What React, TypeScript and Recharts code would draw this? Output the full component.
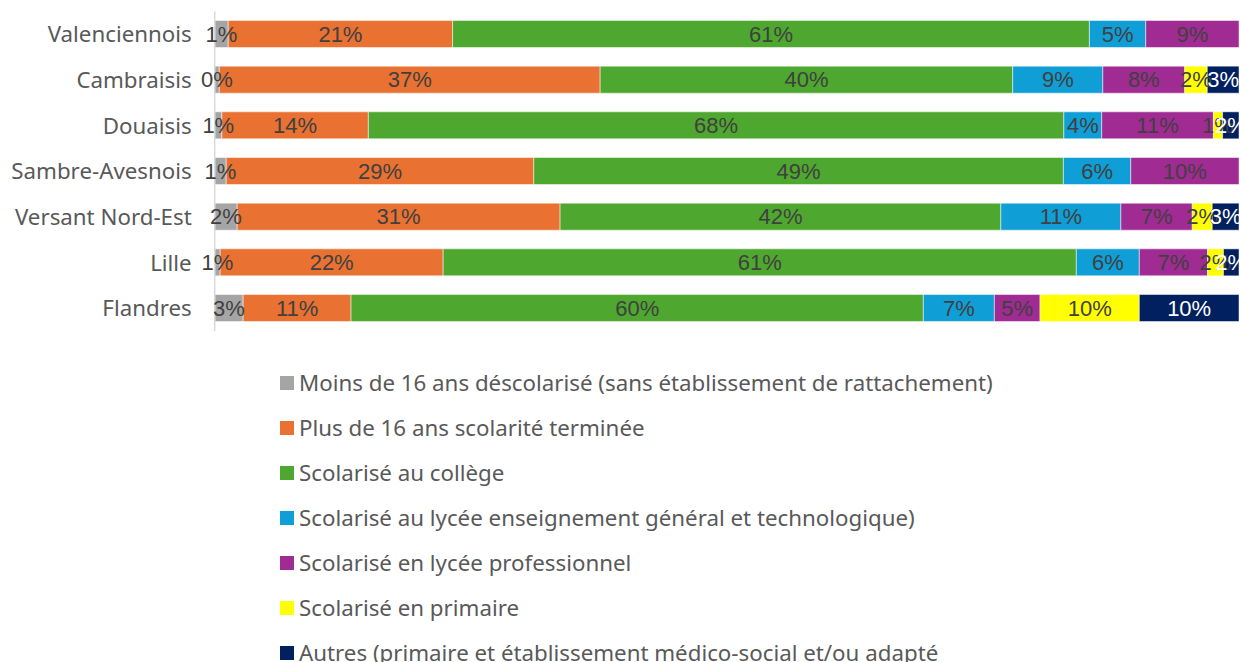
import { Bar, BarChart, LabelList, Legend, XAxis, YAxis } from 'recharts';

const categories = ['Valenciennois', 'Cambraisis', 'Douaisis', 'Sambre-Avesnois', 'Versant Nord-Est', 'Lille', 'Flandres'];

// parts in % (rows don't always add up to 100)
const moins16 = [1.29, 0.45, 0.7, 1.07, 2.14, 0.53, 2.97];
const plus16 = [21.42, 37.2, 14.3, 28.62, 30.75, 21.56, 11.27];
const college = [60.78, 40.3, 67.9, 49.27, 41.97, 61.22, 59.77];
const lyceeGT = [5.38, 8.8, 3.7, 6.27, 11.43, 6.09, 7.42];
const lyceePro = [8.9, 8.0, 10.9, 10.07, 6.8, 6.6, 4.77];
const primaire = [0, 2.2, 0.9, 0, 1.9, 1.54, 10.37];
const autres = [0, 3.1, 1.6, 0, 2.55, 1.5, 10.41];

const seriesNames = [
  'Moins de 16 ans déscolarisé (sans établissement de rattachement)',
  'Plus de 16 ans scolarité terminée',
  'Scolarisé au collège',
  'Scolarisé au lycée enseignement général et technologique)',
  'Scolarisé en lycée professionnel',
  'Scolarisé en primaire',
  'Autres (primaire et établissement médico-social et/ou adapté',
];

const series = [
  { key: 'moins16', values: moins16, color: '#A5A5A5', text: '#404040' },
  { key: 'plus16', values: plus16, color: '#E97132', text: '#404040' },
  { key: 'college', values: college, color: '#4EA72E', text: '#404040' },
  { key: 'lyceeGT', values: lyceeGT, color: '#0F9ED5', text: '#404040' },
  { key: 'lyceePro', values: lyceePro, color: '#A02B93', text: '#404040' },
  { key: 'primaire', values: primaire, color: '#FFFF00', text: '#404040' },
  { key: 'autres', values: autres, color: '#002060', text: '#FFFFFF' },
];

const data = categories.map((name, i) => {
  const row: Record<string, string | number> = { name };
  series.forEach((s) => {
    row[s.key] = s.values[i];
  });
  return row;
});

const uiFont = '"Noto Sans", sans-serif';

const fmt = (v: any) => (v ? `${Math.round(Number(v))}%` : '');

function LegendList({ payload }: any) {
  // keep the series order, not alphabetical
  const items = [...(payload || [])].sort(
    (a: any, b: any) => seriesNames.indexOf(a.value) - seriesNames.indexOf(b.value),
  );
  return (
    <div style={{ fontFamily: uiFont, fontSize: 22.3, color: '#595959' }}>
      {items.map((p: any) => (
        <div key={p.value} style={{ height: 45, display: 'flex', alignItems: 'center', whiteSpace: 'nowrap' }}>
          <span style={{ width: 14, height: 14, background: p.color, marginRight: 5, flex: 'none' }} />
          <span>{p.value}</span>
        </div>
      ))}
    </div>
  );
}

export default function App() {
  return (
    <div style={{ position: 'absolute', left: 0, top: 0, width: 1240, height: 662, overflow: 'hidden', background: '#fff' }}>
      <BarChart
        width={1240}
        height={662}
        data={data}
        layout="vertical"
        stackOffset="expand"
        margin={{ top: 11.5, right: 1, bottom: 330.8, left: 0.7 }}
        barSize={27}
      >
        <XAxis type="number" hide domain={[0, 1]} />
        <YAxis
          type="category"
          dataKey="name"
          width={214}
          tickLine={false}
          tickSize={0}
          tickMargin={23}
          axisLine={{ stroke: '#D9D9D9', strokeWidth: 1.5 }}
          tick={{ fill: '#595959', fontSize: 22.3, fontFamily: uiFont }}
          interval={0}
        />
        <Legend
          layout="vertical"
          align="center"
          verticalAlign="middle"
          content={<LegendList />}
          wrapperStyle={{ left: 280, top: 360, width: 900, height: 320 }}
        />
        {series.map((s, i) => (
          <Bar
            key={s.key}
            dataKey={s.key}
            name={seriesNames[i]}
            stackId="a"
            fill={s.color}
            stroke="#FFFFFF"
            strokeWidth={0.5}
            isAnimationActive={false}
          >
            <LabelList
              dataKey={s.key}
              position="center"
              formatter={fmt}
              fill={s.text}
              fontSize={22}
              fontFamily='"Liberation Sans", Arial, sans-serif'
            />
          </Bar>
        ))}
      </BarChart>
    </div>
  );
}
